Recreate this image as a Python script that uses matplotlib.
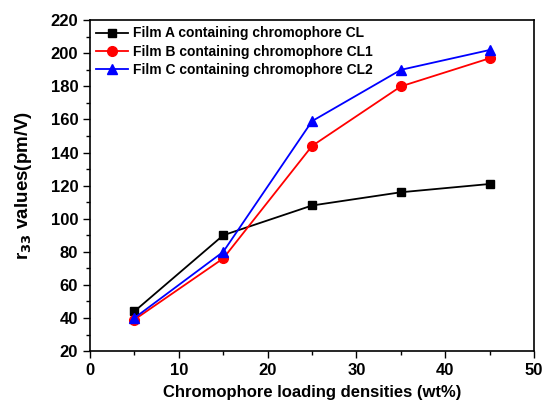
import numpy as np
import matplotlib.pyplot as plt
from matplotlib.ticker import MultipleLocator

# datos
x = [5, 15, 25, 35, 45]
film_a = [44, 90, 108, 116, 121]
film_b = [39, 76, 144, 180, 197]
film_c = [40, 80, 159, 190, 202]

plt.rcParams['font.family'] = 'Liberation Sans'
plt.rcParams['font.weight'] = 'bold'
plt.rcParams['mathtext.default'] = 'bf'

fig = plt.figure(figsize=(5.47, 4.04), dpi=100)
ax = fig.add_axes([0.1645, 0.131, 0.812, 0.819])

ax.plot(x, film_a, color='black', marker='s', ms=6, lw=1.3, label='Film A containing chromophore CL')
ax.plot(x, film_b, color='red', marker='o', ms=7, lw=1.3, label='Film B containing chromophore CL1')
ax.plot(x, film_c, color='blue', marker='^', ms=7, lw=1.3, label='Film C containing chromophore CL2')

ax.set_xlim(0, 50)
ax.set_ylim(20, 220)
ax.xaxis.set_major_locator(MultipleLocator(10))
ax.xaxis.set_minor_locator(MultipleLocator(5))
ax.yaxis.set_major_locator(MultipleLocator(20))
ax.yaxis.set_minor_locator(MultipleLocator(10))
ax.tick_params(which='both', direction='out', labelsize=12, width=1)
ax.tick_params(which='major', length=5)
ax.tick_params(which='minor', length=3)
for s in ax.spines.values():
    s.set_linewidth(1.2)

ax.set_xlabel('Chromophore loading densities (wt%)', fontsize=12, fontweight='bold', labelpad=5)
ax.set_ylabel('r$_{33}$ values(pm/V)', fontsize=13.5, fontweight='bold', labelpad=12)

ax.legend(loc='upper left', frameon=False, fontsize=10, handlelength=2.3,
          handletextpad=0.35, labelspacing=0.3, borderaxespad=0.25, borderpad=0.2)

fig.savefig('out.png', dpi=100)
